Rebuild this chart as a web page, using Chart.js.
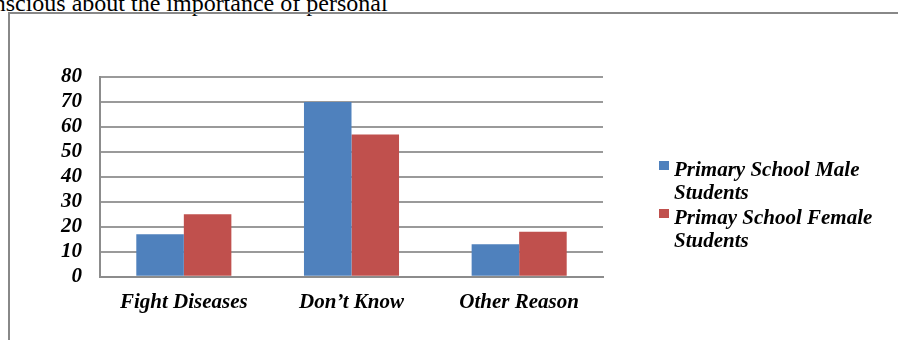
<!DOCTYPE html>
<html lang="en">
<head>
  <meta charset="UTF-8" />
  <title>Reasons for personal hygiene</title>
  <script src="https://cdn.jsdelivr.net/npm/chart.js"></script>
  <style>
    html, body { margin: 0; padding: 0; background: #fff; overflow: hidden; }
    body { width: 898px; height: 340px; position: relative; font-family: "Liberation Serif", "Times New Roman", serif; }
    .lead { position: absolute; left: -29px; top: -9px; font-size: 24px; line-height: 24px; color: #000; white-space: nowrap; }
    .frame { position: absolute; left: 8px; top: 12px; width: 900px; height: 340px; border-left: 2px solid #888; border-top: 2px solid #888; }
    #chartBox { position: absolute; left: 0; top: 0; width: 898px; height: 340px; }
    #legend { position: absolute; left: 659px; top: 158px; width: 215px; }
    .item { display: flex; align-items: flex-start; font: italic bold 21px "Liberation Serif", serif; line-height: 23px; color: #000; margin-bottom: 2px; }
    .swatch { width: 10px; height: 9px; margin-top: 3px; margin-right: 5px; flex: none; }
  </style>
</head>
<body>
  <div class="lead">conscious about the importance of personal</div>
  <div class="frame"></div>
  <div id="chartBox"><canvas id="hygieneChart" width="898" height="340"></canvas></div>
  <div id="legend"></div>

<script>
  const categories = ['Fight Diseases', 'Don\u2019t Know', 'Other Reason'];
  const seriesNames = ['Primary School Male Students', 'Primay School Female Students'];
  const maleValues = [17, 70, 13];
  const femaleValues = [25, 57, 18];
  const yTicks = [0, 10, 20, 30, 40, 50, 60, 70, 80];
  const colors = ['#4F81BD', '#C0504D'];

  const tickFont = { family: '"Liberation Serif", serif', size: 21, style: 'italic', weight: 'bold' };

  const chart = new Chart(document.getElementById('hygieneChart'), {
    type: 'bar',
    data: {
      labels: categories,
      datasets: [
        { label: seriesNames[0], data: maleValues, backgroundColor: colors[0] },
        { label: seriesNames[1], data: femaleValues, backgroundColor: colors[1] }
      ]
    },
    options: {
      responsive: false,
      animation: false,
      layout: { padding: { left: 0, right: 295, top: 77, bottom: 12 } },
      plugins: { legend: { display: false }, tooltip: { enabled: false } },
      datasets: { bar: { categoryPercentage: 0.567, barPercentage: 1.0 } },
      scales: {
        x: {
          grid: { display: false, drawTicks: false },
          border: { color: '#8c8c8c', width: 2 },
          ticks: { color: '#000', font: tickFont, padding: 13 }
        },
        y: {
          min: 0, max: 80,
          afterBuildTicks: axis => { axis.ticks = yTicks.map(v => ({ value: v })); },
          afterFit: axis => { axis.width = 100; },
          grid: { color: '#9a9a9a', lineWidth: 2, drawTicks: false },
          border: { color: '#8c8c8c', width: 2 },
          ticks: { color: '#000', font: tickFont, padding: 18, autoSkip: false }
        }
      }
    }
  });

  // legend with wrapped labels beside the plot
  const legend = document.getElementById('legend');
  seriesNames.forEach((name, i) => {
    const row = document.createElement('div');
    row.className = 'item';
    row.innerHTML = `<span class="swatch" style="background:${colors[i]}"></span><span>${name}</span>`;
    legend.appendChild(row);
  });
</script>
</body>
</html>
